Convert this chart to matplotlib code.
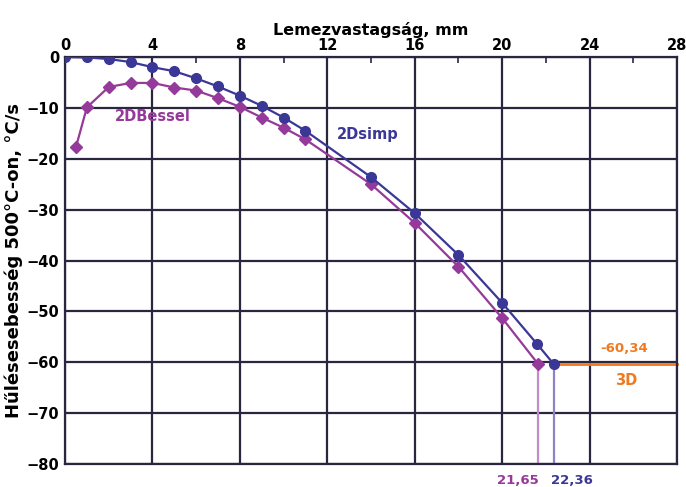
import matplotlib
matplotlib.use("Agg")
import matplotlib.pyplot as plt
from matplotlib.ticker import MultipleLocator

# Data
simp_x = [0, 1, 2, 3, 4, 5, 6, 7, 8, 9, 10, 11, 14, 16, 18, 20, 21.6, 22.36]
simp_y = [0, -0.1, -0.4, -1.0, -2.0, -2.8, -4.2, -5.8, -7.6, -9.6, -11.9, -14.5,
          -23.6, -30.7, -38.9, -48.3, -56.4, -60.34]
bessel_x = [0.5, 1, 2, 3, 4, 5, 6, 7, 8, 9, 10, 11, 14, 16, 18, 20, 21.65]
bessel_y = [-17.7, -9.9, -5.9, -5.1, -5.1, -6.0, -6.6, -8.1, -9.8, -11.9, -13.9, -16.2,
            -25.0, -32.6, -41.2, -51.3, -60.34]
d3_value = -60.34
bessel_end = 21.65
simp_end = 22.36
x_ticks = [0, 4, 8, 12, 16, 20, 24, 28]
y_ticks = [0, -10, -20, -30, -40, -50, -60, -70, -80]

blue = "#3b3796"
magenta = "#953a9a"
orange = "#ee7a22"
grid_c = "#2b2640"

plt.rcParams['font.family'] = ['DejaVu Sans']
fig = plt.figure(figsize=(6.86, 4.87), dpi=100)
ax = fig.add_axes([0.0948, 0.047, 0.892, 0.836])

ax.set_xlim(0, 28)
ax.set_ylim(-80, 0)
ax.set_xticks(x_ticks)
ax.set_yticks(y_ticks)
ax.xaxis.set_minor_locator(MultipleLocator(2))
ax.xaxis.tick_top()
ax.xaxis.set_label_position('top')
ax.tick_params(axis='x', which='major', length=0, pad=3, labelsize=10.5)
ax.tick_params(axis='x', which='minor', direction='in', length=4, width=1.2, color=grid_c)
ax.tick_params(axis='y', which='major', length=0, pad=4, labelsize=10.5)
for lab in ax.get_xticklabels() + ax.get_yticklabels():
    lab.set_fontweight('heavy')
ax.grid(True, which='major', color=grid_c, linewidth=1.6)
for s in ax.spines.values():
    s.set_color(grid_c)
    s.set_linewidth(1.6)
ax.set_axisbelow(True)

ax.set_xlabel("Lemezvastagság, mm", fontsize=11.5, fontweight='heavy', labelpad=2)
ax.set_ylabel("Hűlésesebesség 500°C-on, °C/s", fontsize=13, fontweight='heavy', labelpad=3)

# drop lines and 3D line
ax.plot([bessel_end, bessel_end], [d3_value, -80], color="#c58acb", lw=1.6, zorder=2)
ax.plot([simp_end, simp_end], [d3_value, -80], color="#8f82c8", lw=1.6, zorder=2)
ax.plot([simp_end, 28], [d3_value, d3_value], color=orange, lw=2, zorder=2, clip_on=False)

ax.plot(bessel_x, bessel_y, color=magenta, lw=1.6, marker='D', ms=6, zorder=3)
ax.plot(simp_x, simp_y, color=blue, lw=1.6, marker='o', ms=7, zorder=4)

ax.text(4.0, -11.6, "2DBessel", color=magenta, fontsize=10.5, fontweight='heavy',
        ha='center', va='center')
ax.text(13.85, -15.3, "2Dsimp", color=blue, fontsize=10.5, fontweight='heavy',
        ha='center', va='center')
ax.text(25.6, -57.3, "-60,34", color=orange, fontsize=9.5, fontweight='bold',
        ha='center', va='center')
ax.text(25.7, -63.6, "3D", color=orange, fontsize=10.5, fontweight='bold',
        ha='center', va='center')
ax.text(20.7, -83.2, "21,65", color=magenta, fontsize=9.5, fontweight='bold',
        ha='center', va='center', clip_on=False)
ax.text(23.2, -83.2, "22,36", color=blue, fontsize=9.5, fontweight='bold',
        ha='center', va='center', clip_on=False)

fig.savefig("out.png", dpi=100, facecolor='white')
